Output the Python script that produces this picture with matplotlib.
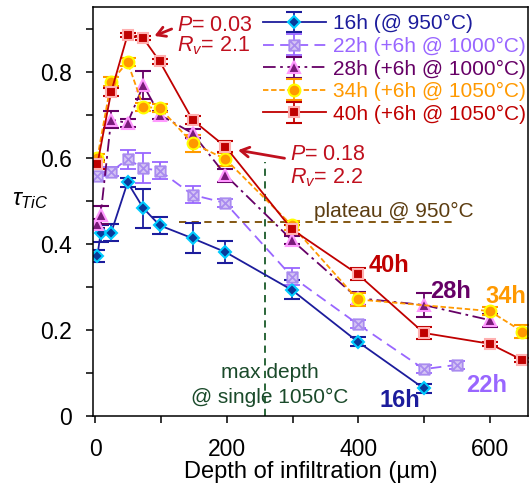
import matplotlib
matplotlib.use("Agg")
import matplotlib.pyplot as plt
import numpy as np
from matplotlib.path import Path

plt.rcParams['font.family'] = ['Liberation Sans', 'DejaVu Sans']
plt.rcParams['mathtext.fontset'] = 'custom'
plt.rcParams['mathtext.rm'] = 'Liberation Sans'
plt.rcParams['mathtext.it'] = 'Liberation Sans:italic'
plt.rcParams['mathtext.bf'] = 'Liberation Sans:bold'

# data
x16 = [3, 8, 24, 49, 73, 98, 148, 198, 299, 399, 500]
y16 = [0.372, 0.425, 0.426, 0.543, 0.483, 0.443, 0.413, 0.381, 0.293, 0.173, 0.064]
e16 = [0.015, 0.02, 0.02, 0.01, 0.045, 0.02, 0.035, 0.025, 0.022, 0.01, 0.01]

x22 = [3, 24, 49, 73, 98, 148, 198, 299, 399, 500, 550]
y22 = [0.557, 0.568, 0.597, 0.576, 0.570, 0.514, 0.495, 0.324, 0.214, 0.109, 0.119]
e22 = [0.01, 0.01, 0.022, 0.035, 0.02, 0.02, 0.01, 0.02, 0.01, 0.01, 0.01]

x28 = [3, 8, 24, 49, 73, 98, 148, 198, 299, 399, 500, 600]
y28 = [0.447, 0.467, 0.689, 0.681, 0.769, 0.700, 0.657, 0.560, 0.409, 0.274, 0.258, 0.223]
e28 = [0.01, 0.02, 0.02, 0.01, 0.033, 0.01, 0.01, 0.015, 0.01, 0.015, 0.027, 0.015]

x34 = [3, 24, 49, 73, 98, 148, 198, 299, 399, 600, 650]
y34 = [0.600, 0.777, 0.823, 0.718, 0.716, 0.634, 0.597, 0.443, 0.271, 0.244, 0.196]
e34 = [0.01, 0.01, 0.01, 0.01, 0.01, 0.02, 0.015, 0.01, 0.015, 0.01, 0.015]

x40 = [3, 24, 49, 73, 98, 148, 198, 299, 399, 500, 600, 650]
y40 = [0.585, 0.753, 0.886, 0.878, 0.824, 0.688, 0.626, 0.434, 0.330, 0.193, 0.168, 0.130]
e40 = [0.01, 0.01, 0.005, 0.005, 0.005, 0.01, 0.013, 0.01, 0.015, 0.015, 0.005, 0.005]

labels = ["16h (@ 950°C)", "22h (+6h @ 1000°C)", "28h (+6h @ 1000°C)",
          "34h (+6h @ 1050°C)", "40h (+6h @ 1050°C)"]

plateau = 0.45
max_depth = 258

# square with an x inside, for 22h
box_x = Path([(-1, -1), (1, -1), (1, 1), (-1, 1), (-1, -1),
              (-1, -1), (1, 1), (-1, 1), (1, -1)],
             [Path.MOVETO, Path.LINETO, Path.LINETO, Path.LINETO, Path.CLOSEPOLY,
              Path.MOVETO, Path.LINETO, Path.MOVETO, Path.LINETO])

c16, c22, c28, c34, c40 = '#1c1c9c', '#9966ff', '#660066', '#ff9900', '#c00000'

fig = plt.figure(figsize=(5.3, 4.86), dpi=100)
ax = fig.add_axes([0.175, 0.144, 0.822, 0.841])

ax.errorbar(x16, y16, yerr=e16, color=c16, lw=1.3, marker='D', ms=6.5,
            mfc='#0a3a9a', mec='#00ccff', mew=1.5, capsize=6, capthick=1.3,
            elinewidth=1.3, label=labels[0])
ax.errorbar(x22, y22, yerr=e22, color=c22, lw=1.3, ls=(0, (6, 3.5)), marker=box_x, ms=7.5,
            mfc='#d6c6f4', mec='#a98bef', mew=1.3, capsize=6, capthick=1.3,
            elinewidth=1.3, label=labels[1])
ax.errorbar(x28, y28, yerr=e28, color=c28, lw=1.3, ls=(0, (7, 2.5, 1.5, 2.5)), marker='^', ms=8.5,
            mfc='#7a1a7a', mec='#ff99ff', mew=1.5, capsize=6, capthick=1.3,
            elinewidth=1.3, label=labels[2])
ax.errorbar(x34, y34, yerr=e34, color=c34, lw=1.3, ls=(0, (3, 1.5)), marker='o', ms=8.5,
            mfc='#ff9900', mec='#ffff00', mew=1.5, capsize=6, capthick=1.3,
            elinewidth=1.3, label=labels[3])
ax.errorbar(x40, y40, yerr=e40, color=c40, lw=1.3, marker='s', ms=6.5,
            mfc='#c00000', mec='#ffb0b0', mew=1.5, capsize=6, capthick=1.3,
            elinewidth=1.3, label=labels[4])

# reference lines
ax.plot([127, 549], [plateau, plateau], color='#7a4a00', lw=1.3, ls=(0, (4, 3)), zorder=1)
ax.plot([max_depth, max_depth], [0, 0.59], color='#1a5a2a', lw=1.3, ls=(0, (4, 3)), zorder=1)

ax.text(332, 0.475, "plateau @ 950°C", color='#5c3d11', fontsize=15, va='center', ha='left')
ax.text(265, 0.10, "max depth", color='#1a4a2a', fontsize=15, va='center', ha='center')
ax.text(265, 0.042, "@ single 1050°C", color='#1a4a2a', fontsize=15, va='center', ha='center')

red = '#c0101e'
ax.text(124, 0.907, "$P$= 0.03", color=red, fontsize=15.5, va='center', ha='left')
ax.text(124, 0.860, "$R_v$= 2.1", color=red, fontsize=15.5, va='center', ha='left')
ax.annotate('', xy=(86, 0.881), xytext=(120, 0.902),
            arrowprops=dict(arrowstyle='->,head_length=0.6,head_width=0.35', color=red, lw=2))
ax.text(296, 0.607, "$P$= 0.18", color=red, fontsize=15.5, va='center', ha='left')
ax.text(296, 0.553, "$R_v$= 2.2", color=red, fontsize=15.5, va='center', ha='left')
ax.annotate('', xy=(213, 0.619), xytext=(292, 0.598),
            arrowprops=dict(arrowstyle='->,head_length=0.6,head_width=0.35', color=red, lw=2))

# series tags
for txt, tx, ty, col in [("40h", 447, 0.349, c40), ("28h", 540, 0.289, c28),
                         ("34h", 624, 0.277, c34), ("22h", 596, 0.072, c22),
                         ("16h", 463, 0.037, c16)]:
    ax.text(tx, ty, txt, color=col, fontsize=17, fontweight='bold', ha='center', va='center')

ax.set_xlim(-4, 659)
ax.set_ylim(0, 0.95)
ax.set_xticks(np.arange(0, 700, 200))
ax.set_xticks(np.arange(100, 700, 200), minor=True)
ax.set_yticks(np.arange(0, 0.81, 0.2))
ax.set_yticklabels(['0', '0.2', '0.4', '0.6', '0.8'])
ax.set_yticks(np.arange(0.1, 0.95, 0.2), minor=True)
ax.tick_params(which='both', direction='out', length=5, width=1.1, labelsize=16.5)
ax.tick_params(axis='x', pad=11)
ax.tick_params(axis='y', pad=10)
for s in ax.spines.values():
    s.set_linewidth(1.1)

ax.set_xlabel("Depth of infiltration (µm)", fontsize=17, labelpad=0)
ax.set_ylabel(r"$\tau_{TiC}$", fontsize=17, rotation=0, ha='center', va='center')
ax.yaxis.set_label_coords(-0.143, 0.529)

ax.legend(loc='upper left', bbox_to_anchor=(0.391, 0.983), frameon=False, fontsize=15,
          handlelength=3.0, handletextpad=0.35, labelspacing=0.17, borderpad=0,
          borderaxespad=0, labelcolor=[c16, c22, c28, c34, c40])

fig.savefig("out.png", dpi=100)
